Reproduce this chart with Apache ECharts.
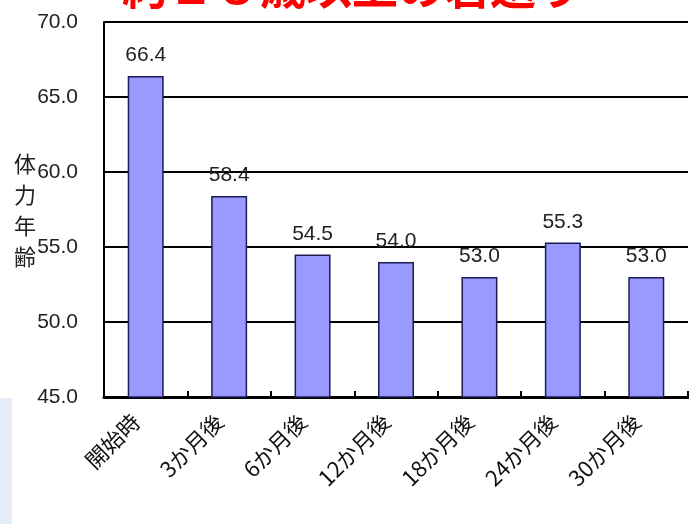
<!DOCTYPE html>
<html>
<head>
<meta charset="utf-8">
<script src="https://cdn.jsdelivr.net/npm/echarts@6/dist/echarts.min.js"></script>
<style>html,body{margin:0;padding:0;background:#fff;}#c{width:689px;height:524px;}</style>
</head>
<body>
<div id="c"></div>
<script>
const categories = ['開始時', '3か月後', '6か月後', '12か月後', '18か月後', '24か月後', '30か月後'];
const values = [66.4, 58.4, 54.5, 54.0, 53.0, 55.3, 53.0];
const yTicks = [45, 50, 55, 60, 65, 70];
const titleText = '約１８歳以上の若返り';
const yName = '体力年齢';

const numFont = "'Liberation Sans', Arial, sans-serif";
const cjkFont = "'Noto Sans CJK JP', sans-serif";
const chart = echarts.init(document.getElementById('c'), null, {renderer: 'canvas'});
chart.setOption({
  backgroundColor: '#ffffff',
  animation: false,
  grid: {left: 104, right: 1, top: 22, bottom: 127, containLabel: false},
  graphic: [
    {type: 'rect', left: 0, top: 398, shape: {width: 12, height: 126}, style: {fill: '#e4edf5'}, z: -1},
    {type: 'text', left: 122, top: -36, style: {text: titleText, fill: '#ff0000', font: "bold 46px " + cjkFont}},
    {type: 'text', left: 14, top: 148, style: {text: yName.split('').join('\n'), fill: '#222', fontSize: 22, lineHeight: 31, fontFamily: cjkFont}}
  ],
  xAxis: {
    type: 'category',
    data: categories,
    axisLine: {lineStyle: {color: '#000', width: 3}},
    axisTick: {show: true, inside: true, length: 6, lineStyle: {color: '#000', width: 2}},
    axisLabel: {rotate: 45, margin: 11, padding: [0, 14, 0, 0], color: '#111', fontSize: 22, fontFamily: cjkFont}
  },
  yAxis: {
    type: 'value',
    min: yTicks[0],
    max: yTicks[yTicks.length - 1],
    interval: 5,
    axisLine: {show: true, lineStyle: {color: '#000', width: 2}},
    axisTick: {show: false},
    splitLine: {show: true, lineStyle: {color: '#000', width: 2}},
    axisLabel: {margin: 26, color: '#222', fontSize: 21, fontFamily: numFont, formatter: v => v.toFixed(1)}
  },
  series: [{
    type: 'bar',
    data: values,
    barWidth: 36,
    itemStyle: {color: '#9999ff', borderColor: '#1c1c55', borderWidth: 1.5},
    label: {show: true, position: 'top', distance: 10, color: '#222', fontSize: 21, fontFamily: numFont, formatter: p => p.value.toFixed(1)}
  }]
});
</script>
</body>
</html>
